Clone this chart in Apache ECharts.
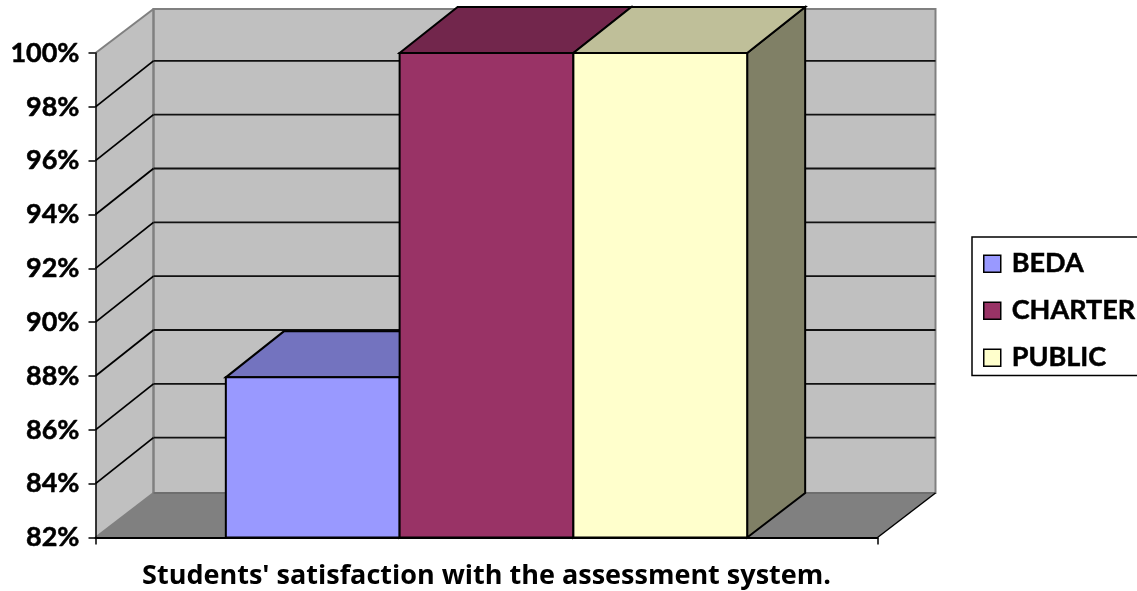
<!DOCTYPE html>
<html><head><meta charset="utf-8">
<style>html,body{margin:0;padding:0;background:#fff;overflow:hidden}#c{width:1137px;height:591px}</style>
<script src="https://cdn.jsdelivr.net/npm/echarts@6/dist/echarts.min.js"></script>
</head><body><div id="c"></div>
<script>
const categories = ["Students' satisfaction with the assessment system."];
const seriesNames = ['BEDA', 'CHARTER', 'PUBLIC'];
const bedaValues = [87.95];
const charterValues = [100];
const publicValues = [100];
const yTicks = [84, 86, 88, 90, 92, 94, 96, 98];
const yMin = 82, yMax = 100;

const FONT = 'Lato';
const DX = 58, DY = -46;
const front = ['#9999FF', '#993366', '#FFFFCC'];
const topFace = ['#7373BF', '#72264C', '#BFBF99'];
const sideFace = ['#4C4C80', '#4C1933', '#808066'];

const chart = echarts.init(document.getElementById('c'), null, {renderer: 'canvas'});

function poly(points, fill, stroke, lw) {
  return {type: 'polygon', shape: {points}, style: {fill, stroke: stroke || 'none', lineWidth: lw || 0, lineJoin: 'miter'}};
}
function seg(x1, y1, x2, y2, stroke, lw) {
  return {type: 'line', shape: {x1, y1, x2, y2}, style: {stroke, lineWidth: lw, fill: 'none'}};
}
function renderWalls(params, api) {
  const p0 = api.coord([0, yMin]), p1 = api.coord([0, yMax]);
  const w = api.size([1, 0])[0];
  const L = p0[0] - w / 2, R = p0[0] + w / 2, B = p0[1], T = p1[1];
  const TB = T + DY + 2, FB = B + DY + 1.5;
  const children = [
    poly([[L, B], [L + DX, FB], [L + DX, TB], [L, T]], '#C0C0C0'),
    poly([[L + DX, FB], [R + DX, FB], [R + DX, TB], [L + DX, TB]], '#C0C0C0', '#808080', 2),
    poly([[L, B], [R, B], [R + DX, FB], [L + DX, FB]], '#808080'),
    seg(L, T, L + DX, TB, '#808080', 2),
    seg(L, B, L + DX, FB, '#808080', 2),
    seg(L + DX, FB, L + DX, TB, '#808080', 2),
    seg(L + DX, FB, R + DX, FB, '#6e6e6e', 2),
    seg(R, B, R + DX, FB, '#000', 1.5)
  ];
  yTicks.forEach(t => {
    const y = api.coord([0, t])[1];
    children.push(seg(L, y, L + DX, y + DY, '#000', 1.8));
    children.push(seg(L + DX, y + DY, R + DX, y + DY, '#111', 1.8));
  });
  return {type: 'group', children};
}
function renderBar(idx) {
  return function (params, api) {
    const t = api.coord([0, api.value(1)]), b = api.coord([0, yMin]);
    const band = api.size([1, 0])[0];
    const bw = band / 4.5;
    const x0 = t[0] - 1.5 * bw + idx * bw, x1 = x0 + bw, yT = t[1], yB = b[1];
    return {type: 'group', children: [
      poly([[x1, yB], [x1 + DX, yB + DY + 1.5], [x1 + DX, yT + DY], [x1, yT]], sideFace[idx], '#000', 2),
      poly([[x0, yT], [x1, yT], [x1 + DX, yT + DY], [x0 + DX, yT + DY]], topFace[idx], '#000', 2),
      poly([[x0, yB], [x1, yB], [x1, yT], [x0, yT]], front[idx], '#000', 2)
    ]};
  };
}
const values = [bedaValues, charterValues, publicValues];
chart.setOption({
  animation: false,
  backgroundColor: '#fff',
  grid: {left: 95.5, right: 259.5, top: 53, bottom: 53.5, containLabel: false},
  legend: {
    data: seriesNames, orient: 'vertical', left: 972, top: 237,
    padding: [13, 40, 4, 11], itemWidth: 17, itemHeight: 17, itemGap: 19.5,
    borderColor: '#000', borderWidth: 1.5, backgroundColor: '#fff',
    icon: 'rect',
    itemStyle: {borderColor: '#000', borderWidth: 1.5},
    textStyle: {fontFamily: FONT, fontWeight: 'bold', fontSize: 27, lineHeight: 24, color: '#000', padding: [0, 0, 0, 6], textBorderColor: '#000', textBorderWidth: 0.5}
  },
  xAxis: {
    type: 'category', data: categories, z: 10,
    axisLine: {lineStyle: {color: '#000', width: 2}},
    axisTick: {show: true, length: 7, lineStyle: {color: '#000', width: 1.5}},
    axisLabel: {fontFamily: 'Open Sans', fontWeight: 'bold', fontSize: 27, color: '#000', margin: 25, interval: 0}
  },
  yAxis: {
    type: 'value', min: yMin, max: yMax, interval: 2, z: 10,
    axisLine: {show: true, lineStyle: {color: '#000', width: 1.5}},
    axisTick: {show: true, length: 7, lineStyle: {color: '#000', width: 1.5}},
    splitLine: {show: false},
    axisLabel: {formatter: '{value}%', fontFamily: FONT, fontWeight: 'bold', fontSize: 27, color: '#000', margin: 16, padding: [2, 0, 0, 0], textBorderColor: '#000', textBorderWidth: 0.5}
  },
  series: [
    {type: 'custom', name: 'walls', z: 1, silent: true, data: [[0, yMax]], renderItem: renderWalls, encode: {x: 0, y: 1}},
    ...seriesNames.map((n, i) => ({
      type: 'custom', name: n, z: 2 + i, data: [[0, values[i][0]]],
      itemStyle: {color: front[i]}, renderItem: renderBar(i), encode: {x: 0, y: 1}
    }))
  ]
});
</script></body></html>
